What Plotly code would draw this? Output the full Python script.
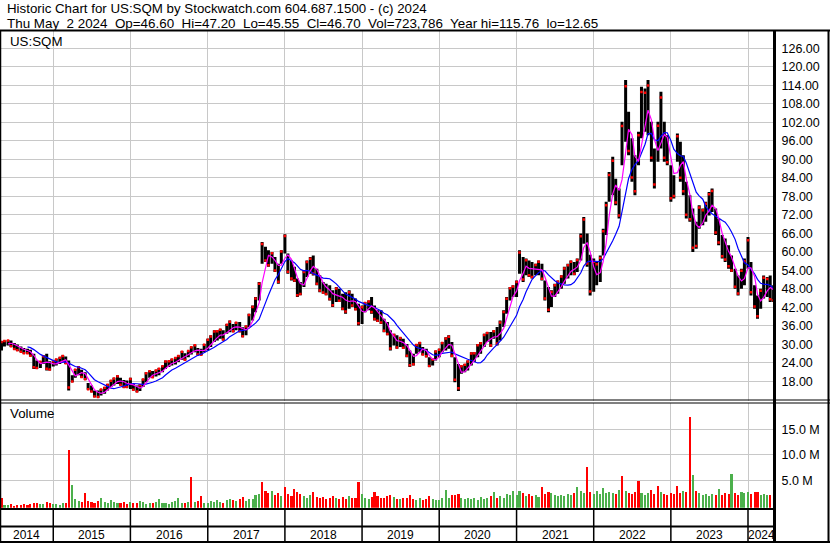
import pandas as pd
import plotly.graph_objects as go

# ---------------- data ----------------
# semi-monthly sampling periods (1st and 15th of each month)
dates = pd.date_range("2014-05-01", "2024-05-01", freq="SMS")

high = [
    31.0, 31.2, 31.4, 31.2, 30.4, 29.9, 29.3, 28.8, 28.5, 28.2,
    26.9, 24.7, 24.5, 26.4, 26.9, 24.5, 24.7, 25.3, 25.8, 26.4,
    26.0, 24.7, 19.9, 22.0, 22.8, 21.7, 20.9, 17.4, 16.6, 15.0,
    15.0, 15.5, 16.1, 17.1, 18.4, 19.1, 19.9, 19.1, 18.4, 18.2,
    19.1, 17.1, 16.6, 16.9, 18.8, 20.9, 21.5, 21.3, 21.7, 22.3,
    23.1, 24.7, 24.7, 25.3, 25.8, 26.4, 27.8, 27.1, 28.0, 29.3,
    29.9, 28.8, 28.5, 30.1, 31.8, 32.9, 34.5, 34.5, 35.0, 34.5,
    36.6, 37.7, 36.6, 37.2, 37.2, 35.5, 36.1, 39.9, 42.6, 45.3,
    50.2, 63.2, 61.6, 60.5, 59.9, 58.3, 56.1, 60.5, 65.7, 59.4,
    57.2, 55.1, 51.3, 50.2, 54.0, 57.2, 58.3, 58.8, 54.5, 52.4,
    50.2, 49.6, 49.1, 47.5, 48.6, 48.0, 46.4, 46.9, 47.5, 46.4,
    44.8, 43.1, 42.6, 43.7, 44.2, 45.3, 42.6, 41.0, 41.0, 38.3,
    37.2, 34.5, 33.4, 32.9, 32.3, 31.8, 30.1, 28.0, 26.9, 30.1,
    30.7, 29.1, 28.5, 25.8, 25.3, 28.0, 28.5, 30.7, 32.3, 32.9,
    30.7, 25.8, 23.6, 23.1, 23.6, 24.7, 27.4, 27.4, 30.1, 30.7,
    33.4, 34.0, 34.0, 34.5, 35.6, 37.7, 41.0, 45.3, 48.6, 49.1,
    50.7, 60.5, 58.3, 57.8, 57.2, 56.7, 56.1, 57.2, 56.1, 50.7,
    48.6, 47.5, 49.6, 50.7, 52.4, 55.1, 56.1, 57.2, 56.7, 57.8,
    65.9, 71.3, 65.9, 59.0, 57.8, 56.7, 58.8, 67.5, 76.2, 85.9,
    90.8, 83.7, 80.5, 102.2, 115.7, 105.4, 96.8, 91.3, 98.9, 113.5,
    113.0, 115.7, 102.2, 93.5, 102.2, 111.9, 102.2, 97.8, 88.1, 84.8,
    98.4, 95.7, 91.3, 82.7, 78.3, 74.0, 69.7, 75.1, 74.0, 76.2,
    79.4, 80.5, 74.0, 70.8, 65.4, 64.3, 62.1, 58.8, 54.5, 52.3,
    54.5, 57.8, 64.8, 56.7, 49.1, 45.8, 48.0, 52.3, 51.8, 52.3,
    49.1,
]

low = [
    28.0, 29.3, 29.6, 29.1, 28.2, 27.8, 27.4, 26.9, 26.9, 26.0,
    22.0, 22.0, 22.3, 23.6, 21.5, 21.5, 22.8, 23.1, 23.6, 24.2,
    23.6, 15.0, 17.7, 19.1, 19.9, 19.1, 18.4, 15.2, 14.4, 12.8,
    12.6, 13.4, 13.9, 15.0, 16.1, 16.6, 17.1, 16.6, 15.9, 15.9,
    15.5, 15.0, 14.4, 14.8, 16.1, 17.7, 19.1, 19.1, 19.5, 19.9,
    20.9, 22.0, 22.6, 23.1, 23.4, 24.2, 25.0, 24.7, 25.8, 26.7,
    27.4, 26.4, 26.4, 27.4, 28.0, 29.1, 30.7, 31.2, 31.8, 31.2,
    33.4, 33.9, 33.9, 34.5, 33.9, 32.3, 32.9, 35.6, 37.7, 40.4,
    44.2, 56.1, 56.7, 55.1, 56.1, 53.4, 49.6, 56.1, 59.4, 52.9,
    50.7, 50.2, 45.3, 45.9, 48.6, 51.8, 52.9, 52.3, 49.1, 46.9,
    46.4, 45.9, 44.2, 42.1, 43.7, 43.7, 41.0, 39.9, 41.5, 42.1,
    41.0, 36.1, 36.6, 40.4, 41.0, 39.9, 37.7, 37.2, 36.6, 33.9,
    32.9, 28.0, 29.6, 28.5, 29.1, 28.5, 25.8, 22.6, 23.1, 26.9,
    27.4, 26.4, 25.8, 22.6, 23.1, 24.7, 25.8, 27.4, 28.0, 28.5,
    25.8, 17.7, 14.8, 20.4, 20.9, 21.5, 23.1, 24.2, 25.8, 26.9,
    29.1, 30.7, 29.1, 31.8, 29.6, 31.2, 35.6, 39.9, 44.2, 45.3,
    45.3, 52.9, 50.2, 52.4, 51.8, 51.3, 52.4, 52.4, 50.7, 44.2,
    40.4, 42.1, 45.3, 46.4, 48.0, 49.6, 51.3, 52.4, 52.4, 53.4,
    57.2, 62.6, 55.1, 45.8, 47.0, 49.1, 50.2, 58.8, 65.4, 76.2,
    78.3, 75.1, 70.8, 88.1, 95.7, 91.3, 82.7, 78.3, 88.1, 96.8,
    98.9, 97.8, 89.2, 80.5, 89.2, 93.5, 89.2, 88.1, 76.2, 77.3,
    89.2, 82.7, 78.3, 70.8, 69.7, 59.9, 61.0, 67.5, 68.6, 69.7,
    71.8, 72.9, 65.4, 62.1, 57.8, 56.7, 54.5, 53.4, 48.0, 45.8,
    48.0, 49.1, 54.5, 45.8, 41.5, 38.3, 41.5, 44.8, 45.3, 43.7,
    43.7,
]

volume_m = [
    1.9, 0.6, 0.5, 0.7, 0.4, 0.6, 0.5, 0.8, 0.6, 0.7,
    1.0, 0.9, 0.7, 0.8, 1.1, 0.9, 0.7, 0.8, 0.6, 0.9,
    1.0, 11.3, 4.4, 1.8, 1.3, 1.1, 2.9, 1.4, 1.2, 1.0,
    1.3, 1.9, 1.1, 0.9, 1.6, 1.2, 0.9, 1.0, 1.1, 0.8,
    1.2, 1.0, 0.9, 1.3, 1.1, 0.8, 0.9, 1.0, 1.2, 1.7,
    0.9, 1.0, 0.8, 1.1, 1.3, 1.9, 1.0, 0.9, 1.2, 6.1,
    1.1, 1.4, 2.2, 1.0, 0.9, 1.3, 1.1, 1.5, 1.2, 1.0,
    1.6, 1.8, 1.5, 1.3, 1.7, 2.1, 1.4, 1.8, 1.7, 2.4,
    2.6, 5.1, 3.2, 2.8, 3.3, 2.4, 2.8, 2.2, 4.0, 2.6,
    2.3, 3.7, 3.0, 2.6, 2.2, 2.0, 2.5, 3.0, 2.1, 1.9,
    2.1, 1.8, 2.0, 2.3, 1.9, 1.7, 2.1, 1.8, 2.3, 2.0,
    1.9, 5.1, 2.6, 2.0, 1.8, 2.1, 3.0, 2.2, 1.9, 2.0,
    2.3, 2.5, 2.1, 1.8, 1.7, 1.9, 2.0, 2.4, 1.8, 1.6,
    1.9, 1.6, 1.8, 2.2, 1.7, 1.5, 1.6, 2.0, 3.4, 1.9,
    2.5, 2.4, 2.7, 1.9, 1.8, 2.0, 1.7, 1.9, 1.6, 2.1,
    1.8, 2.0, 2.3, 3.0, 1.9, 2.2, 2.0, 2.6, 2.4, 3.2,
    2.5, 3.2, 2.8, 2.3, 2.6, 2.2, 2.4, 2.1, 4.0, 2.7,
    3.0, 2.9, 2.4, 2.2, 2.5, 2.3, 2.7, 2.4, 2.8, 4.0,
    3.2, 2.9, 8.0, 3.0, 2.7, 3.3, 2.6, 3.8, 2.9, 3.1,
    2.8, 2.6, 3.5, 6.3, 3.2, 2.9, 2.6, 3.0, 5.3, 2.8,
    2.5, 2.9, 3.4, 2.6, 4.2, 3.0, 2.7, 2.4, 2.8, 2.6,
    4.2, 2.9, 3.3, 3.0, 17.7, 6.4, 3.2, 2.8, 2.4, 2.6,
    2.3, 2.7, 2.5, 3.7, 2.4, 2.8, 2.6, 6.7, 2.9, 2.5,
    3.0, 2.8, 3.0, 2.6, 3.0, 3.0, 2.4, 2.7, 2.5, 2.5,
    2.0,
]

# periods whose volume bar is clearly red / green in the picture
red_volume_periods = [0, 21, 26, 59, 62, 81, 88, 91, 97, 111, 116, 182, 193, 198, 204, 210, 214]
green_volume_periods = [22, 138, 159, 179, 187, 192, 212, 215, 223, 227]

year_labels = ["2014", "2015", "2016", "2017", "2018", "2019", "2020",
               "2021", "2022", "2023", "2024"]
price_ticks = [18, 24, 30, 36, 42, 48, 54, 60, 66, 72, 78, 84, 90, 96,
               102, 108, 114, 120, 126]
volume_ticks_m = [5, 10, 15]

title_line1 = "Historic Chart for US:SQM by Stockwatch.com 604.687.1500 - (c) 2024"
title_line2 = ("Thu May\u00a0 2 2024\u00a0 Op=46.60\u00a0 Hi=47.20\u00a0 Lo=45.55\u00a0 "
               "Cl=46.70\u00a0 Vol=723,786\u00a0 Year hi=115.76\u00a0 lo=12.65")

# ---------------- geometry helpers ----------------
W, H = 830, 543
ML, MR, MT, MB = 0, 56, 31, 34
PW = W - ML - MR
PH = H - MT - MB
FONT = "Liberation Sans, Arial, sans-serif"


def pxx(xp):
    return (xp - ML) / PW


def pxy(yp):
    return (H - MB - yp) / PH


x_start, x_end = "2014-04-24", "2024-05-03"
year_starts = [pd.Timestamp(f"{y}-01-01") for y in range(2015, 2025)]
seg_edges = [pd.Timestamp(x_start)] + year_starts + [pd.Timestamp(x_end)]
label_pos = [a + (b - a) / 2 for a, b in zip(seg_edges[:-1], seg_edges[1:])]

# ---------------- derived series ----------------
mid = pd.Series([(h + l) / 2 for h, l in zip(high, low)])
ma_fast = mid.rolling(3).mean()
ma_slow = mid.rolling(9).mean()

up = [True] + [mid[i] >= mid[i - 1] for i in range(1, len(mid))]
close_mark = [h - 0.1 * (h - l) if u else l + 0.1 * (h - l)
              for h, l, u in zip(high, low, up)]

vol_colors = []
for i, u in enumerate(up):
    if i in red_volume_periods:
        vol_colors.append("#ff0000")
    elif i in green_volume_periods:
        vol_colors.append("#4cb04c")
    else:
        vol_colors.append("#4cb04c" if u else "#ff0000")

fig = go.Figure()

# high-low bars
bx, by = [], []
for d, h, l in zip(dates, high, low):
    bx += [d, d, None]
    by += [l, h, None]
fig.add_trace(go.Scatter(x=bx, y=by, mode="lines", xaxis="x", yaxis="y",
                         line=dict(color="black", width=3), hoverinfo="skip"))
# close ticks (red)
fig.add_trace(go.Scatter(x=dates, y=close_mark, mode="markers", xaxis="x", yaxis="y",
                         marker=dict(color="#ff0000", size=2.5, symbol="square"),
                         hoverinfo="skip"))
# moving averages
fig.add_trace(go.Scatter(x=dates, y=ma_slow, mode="lines", xaxis="x", yaxis="y",
                         line=dict(color="#0000ff", width=1.2), hoverinfo="skip"))
fig.add_trace(go.Scatter(x=dates, y=ma_fast, mode="lines", xaxis="x", yaxis="y",
                         line=dict(color="#ff00ff", width=1.2), hoverinfo="skip"))
# volume
fig.add_trace(go.Bar(x=dates, y=[v * 1e6 for v in volume_m], base=-0.35e6,
                     xaxis="x2", yaxis="y2", marker=dict(color=vol_colors, line=dict(width=0)),
                     width=10 * 86400000, hoverinfo="skip"))

grid = "#c8c8c8"
tick_font = dict(family=FONT, size=12.5, color="#000000")

fig.update_layout(
    width=W, height=H,
    margin=dict(l=ML, r=MR, t=MT, b=MB, pad=0),
    paper_bgcolor="white", plot_bgcolor="white",
    showlegend=False, bargap=0, hovermode=False,
    font=dict(family=FONT, size=12, color="black"),
    xaxis=dict(type="date", range=[x_start, x_end], domain=[0, 1], anchor="y",
               tickvals=year_starts, showticklabels=False, ticks="",
               showgrid=True, gridcolor=grid, gridwidth=1, zeroline=False, showline=False),
    yaxis=dict(domain=[pxy(400.5), 1], range=[11.74, 131.62], anchor="x", side="right",
               tickvals=price_ticks, tickformat=".2f", ticks="outside", ticklen=4,
               tickcolor="rgba(0,0,0,0)", showgrid=True, gridcolor=grid, gridwidth=1,
               zeroline=False, showline=False, tickfont=tick_font),
    xaxis2=dict(type="date", range=[x_start, x_end], domain=[0, 1], anchor="y2",
                matches="x", tickvals=year_starts, showticklabels=False, ticks="",
                showgrid=True, gridcolor=grid, gridwidth=1, zeroline=False, showline=False),
    yaxis2=dict(domain=[pxy(507.7), pxy(402.5)], range=[-0.35e6, 20.28e6], anchor="x2",
                side="right", tickvals=[v * 1e6 for v in volume_ticks_m],
                ticktext=[f"{v:.1f} M" for v in volume_ticks_m], ticks="outside", ticklen=4,
                tickcolor="rgba(0,0,0,0)", showgrid=True, gridcolor=grid, gridwidth=1,
                zeroline=False, showline=False, tickfont=tick_font),
)


# frame lines
def hline(yp, x0p, x1p, w):
    fig.add_shape(type="line", xref="paper", yref="paper", x0=pxx(x0p), x1=pxx(x1p),
                  y0=pxy(yp), y1=pxy(yp), line=dict(color="black", width=w), layer="above")


def vline(xp, y0p, y1p, w):
    fig.add_shape(type="line", xref="paper", yref="paper", x0=pxx(xp), x1=pxx(xp),
                  y0=pxy(y0p), y1=pxy(y1p), line=dict(color="black", width=w), layer="above")


hline(30.5, 0, 830, 2)
hline(400.0, 0, 830, 1)
hline(403.0, 0, 830, 1)
hline(509.0, 0, 775, 2)
hline(526.5, 0, 775, 2)
hline(542.0, 0, 830, 2)
vline(0.5, 30, 543, 1.5)
vline(774.5, 30, 543, 3)
vline(828.5, 30, 543, 2)

# year separators in the label rows
for ys in year_starts:
    fig.add_shape(type="line", xref="x", yref="paper", x0=ys, x1=ys,
                  y0=pxy(510), y1=pxy(542), line=dict(color="black", width=1.5), layer="above")

# year labels
for lbl, pos in zip(year_labels, label_pos):
    fig.add_annotation(x=pos, y=pxy(535), xref="x", yref="paper", text=lbl,
                       showarrow=False, xanchor="center", yanchor="middle",
                       font=dict(family=FONT, size=12, color="black"))


# text annotations
def text(t, xp, yp, size=13.3):
    fig.add_annotation(x=pxx(xp), y=pxy(yp), xref="paper", yref="paper", text=t,
                       showarrow=False, xanchor="left", yanchor="middle",
                       font=dict(family=FONT, size=size, color="black"))


text(title_line1, 4.5, 8.1, 13.3)
text(title_line2, 5.0, 23.1, 13.4)
text("US:SQM", 8.0, 41.4, 13.3)
text("Volume", 8.0, 413.7, 13.3)

fig.write_html("out.html", config={"displayModeBar": False, "staticPlot": True},
               post_script="document.body.style.margin='0';document.body.style.padding='0';")
